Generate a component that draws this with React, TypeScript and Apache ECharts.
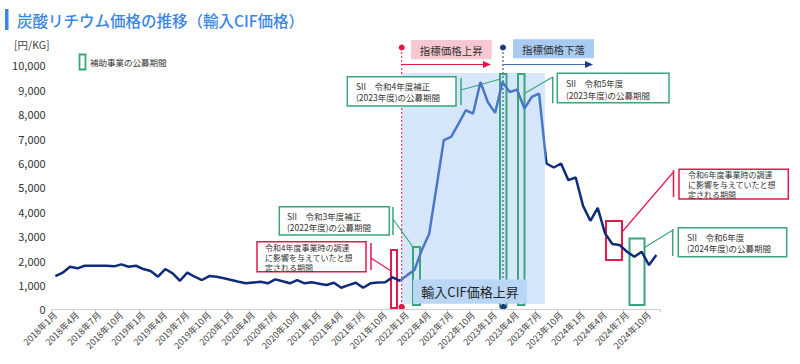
import React, { useEffect, useRef } from "react";
import * as echarts from "echarts";

const years = [2018, 2019, 2020, 2021, 2022, 2023, 2024];
const monthsPerYear = [12, 12, 12, 12, 12, 12, 11];
const categories: string[] = [];
years.forEach((y, i) => {
  for (let m = 1; m <= monthsPerYear[i]; m++) categories.push(`${y}年${m}月`);
});

// 炭酸リチウム 輸入CIF価格 [円/KG]
const prices2018 = [1363, 1500, 1745, 1680, 1785, 1780, 1780, 1780, 1760, 1840, 1745, 1785];
const prices2019 = [1650, 1568, 1335, 1650, 1473, 1170, 1500, 1335, 1200, 1363, 1335, 1270];
const prices2020 = [1200, 1130, 1065, 1100, 1130, 1065, 1228, 1150, 1065, 1200, 1065, 1105];
const prices2021 = [1050, 995, 1090, 885, 990, 1090, 885, 1065, 1100, 1110, 1310, 1170];
const prices2022 = [1400, 1610, 2427, 3082, 5000, 6930, 7065, 7600, 8158, 8023, 9316, 8498];
const prices2023 = [8048, 9316, 8907, 9005, 8228, 8702, 8842, 5976, 5812, 5976, 5293, 5403];
const prices2024 = [4240, 3627, 4159, 3111, 2673, 2632, 2358, 2153, 2358, 1813, 2223];
const prices = [
  ...prices2018, ...prices2019, ...prices2020, ...prices2021,
  ...prices2022, ...prices2023, ...prices2024,
];

const yTicks = { min: 0, max: 10000, interval: 1000 };

const FONT = '"Noto Sans CJK JP", "Noto Sans", sans-serif';
const GREEN = "#3aa57a";
const RED = "#e3194b";
const NAVY = "#0f2b7c";
const LIGHT = "#4a78c8";
const TXT = "#333";

function rectOutline(x: number, y: number, w: number, h: number, stroke: string, fill = "none", lw = 2) {
  return { type: "rect", silent: true, shape: { x, y, width: w, height: h }, style: { fill, stroke, lineWidth: lw } };
}
function line(x1: number, y1: number, x2: number, y2: number, stroke: string, lw = 1.3, dash?: number[]) {
  return { type: "line", silent: true, shape: { x1, y1, x2, y2 }, style: { stroke, lineWidth: lw, lineDash: dash } };
}
function text(x: number, y: number, t: string, size: number, fill = TXT, align = "left", lh?: number, weight = "normal") {
  return {
    type: "text", silent: true, x, y,
    style: { text: t, fontSize: size, fill, align, verticalAlign: "middle", fontFamily: FONT, lineHeight: lh, fontWeight: weight },
  };
}
function callout(
  box: [number, number, number, number], color: string, vx: number, vy1: number, vy2: number,
  d: [number, number, number, number], tx: number, ty: number, t: string, size: number, lh: number
) {
  return [
    rectOutline(box[0], box[1], box[2], box[3], color, "#fff", 1.5),
    line(vx, vy1, vx, vy2, color, 1.5),
    line(d[0], d[1], d[2], d[3], color, 1.2),
    text(tx, ty, t, size, TXT, "left", lh),
  ];
}

export default function App() {
  const ref = useRef<HTMLDivElement>(null);
  useEffect(() => {
    if (!ref.current) return;
    const chart = echarts.init(ref.current, null, { renderer: "svg" });
    const graphics: any[] = [
      // shaded period
      { type: "rect", silent: true, z: -10, shape: { x: 401.7, y: 73, width: 143.3, height: 231 }, style: { fill: "#d6e7fc" } },
      // title
      { type: "rect", silent: true, shape: { x: 5, y: 9, width: 3.5, height: 21 }, style: { fill: "#3a85e6" } },
      text(17, 20, "炭酸リチウム価格の推移（輸入CIF価格）", 15.5, "#3a85e6", "left", undefined, "500"),
      text(14, 44.5, "[円/KG]", 10.5, "#444"),
      // legend
      rectOutline(79.5, 54.5, 6, 15, GREEN, "none", 1.8),
      text(90, 62, "補助事業の公募期間", 8.5, TXT),
      // red dotted
      line(401.7, 48, 401.7, 307, RED, 1, [2, 2]),
      { type: "circle", silent: true, shape: { cx: 401.7, cy: 47.5, r: 3 }, style: { fill: RED } },
      line(401.7, 64.5, 485, 64.5, RED, 1.2),
      { type: "polygon", silent: true, shape: { points: [[483, 61], [491, 64.5], [483, 68]] }, style: { fill: RED } },
      { type: "rect", silent: true, shape: { x: 411, y: 40, width: 80.7, height: 19.3 }, style: { fill: "#f8c8d2" } },
      text(451.3, 50, "指標価格上昇", 10.5, TXT, "center"),
      // navy dotted
      line(503, 48, 503, 307, "#1f3a7a", 1, [2, 2]),
      { type: "circle", silent: true, shape: { cx: 503, cy: 47.5, r: 3 }, style: { fill: "#1f3a7a" } },
      line(503, 64.5, 587, 64.5, "#4d6fa8", 1.2),
      { type: "polygon", silent: true, shape: { points: [[585, 61], [593, 64.5], [585, 68]] }, style: { fill: "#1f3a7a" } },
      { type: "rect", silent: true, shape: { x: 513, y: 39.3, width: 81, height: 19 }, style: { fill: "#a9cbf1" } },
      text(553.5, 49, "指標価格下落", 10.5, TXT, "center"),
      // green periods
      rectOutline(413, 247, 7, 58, GREEN),
      rectOutline(500, 74, 6.5, 233, GREEN),
      rectOutline(518, 74, 6.5, 231, GREEN),
      rectOutline(629.5, 238.5, 15, 66.5, GREEN),
      // red periods
      rectOutline(391, 250, 6, 58, RED),
      rectOutline(606, 221, 16, 39, RED),
      // CIF box (above the period marks)
      { type: "rect", silent: true, shape: { x: 413, y: 279.5, width: 114, height: 24 }, style: { fill: "#b9d6f6" } },
      text(470, 291.5, "輸入CIF価格上昇", 13, "#222", "center"),
      // dots at the axis
      { type: "circle", silent: true, shape: { cx: 401.7, cy: 307, r: 3.2 }, style: { fill: RED } },
      { type: "circle", silent: true, shape: { cx: 503.3, cy: 307, r: 3.2 }, style: { fill: "#1f3a7a" } },
      // callouts
      ...callout([257, 241.7, 109, 30], RED, 371, 243, 270, [371, 258, 391, 271], 265, 257,
        "令和4年度事業時の調達\nに影響を与えていたと想\n定される期間", 8, 10),
      ...callout([279.3, 206.7, 110, 28.3], GREEN, 393, 207, 235, [393, 219, 413, 247], 287, 221,
        "SII　令和3年度補正\n(2022年度)の公募期間", 8.5, 11),
      ...callout([347.3, 76.7, 108.7, 29.3], GREEN, 461, 78, 105, [461, 90, 500.5, 79], 356, 91.5,
        "SII　令和4年度補正\n(2023年度)の公募期間", 8.5, 11.5),
      ...callout([557.3, 73.3, 111.7, 29.4], GREEN, 552.7, 76.7, 103.3, [552.7, 77, 524.5, 93.5], 566, 89,
        "SII　令和5年度\n(2023年度)の公募期間", 8.5, 11.5),
      ...callout([679, 169.3, 109.3, 29.7], RED, 673.5, 170, 197, [673.5, 172, 622, 232], 688, 184.5,
        "令和6年度事業時の調達\nに影響を与えていたと想\n定される期間", 8, 10),
      ...callout([678.3, 227.7, 108.4, 29], GREEN, 672.7, 229, 256, [673, 230, 644.5, 247.5], 687, 242.5,
        "SII　令和6年度\n(2024年度)の公募期間", 8.5, 11),
    ];
    chart.setOption({
      animation: false,
      backgroundColor: "#fff",
      textStyle: { fontFamily: FONT },
      grid: { left: 51.7, right: 140, top: 65.3, bottom: 54.7, containLabel: false, outerBoundsMode: "none" },
      xAxis: {
        type: "category",
        data: categories,
        boundaryGap: true,
        axisLine: { show: true, lineStyle: { color: "#d0d0d0", width: 1 } },
        axisTick: { show: true, length: 3, interval: 2, lineStyle: { color: "#c8c8c8" } },
        axisLabel: { interval: 2, rotate: 45, fontSize: 9, color: "#444", margin: 4, fontFamily: FONT },
        splitLine: { show: false },
      },
      yAxis: {
        type: "value",
        min: yTicks.min,
        max: yTicks.max,
        interval: yTicks.interval,
        axisLine: { show: false },
        axisTick: { show: false },
        splitLine: { show: false },
        axisLabel: {
          fontSize: 11, color: "#333", margin: 6, fontFamily: FONT,
          formatter: (v: number) => v.toLocaleString("en-US"),
        },
      },
      visualMap: {
        type: "piecewise",
        show: false,
        dimension: 0,
        seriesIndex: 0,
        pieces: [
          { lte: 47, color: NAVY },
          { gt: 47, lt: 67, color: LIGHT },
          { gte: 67, color: NAVY },
        ],
      },
      series: [
        {
          type: "line",
          data: prices,
          symbol: "none",
          z: 3,
          lineStyle: { width: 2.5 },
        },
      ],
      graphic: { elements: graphics },
    });
    return () => chart.dispose();
  }, []);
  return <div ref={ref} style={{ position: "fixed", left: 0, top: 0, width: 800, height: 364, background: "#fff" }} />;
}
